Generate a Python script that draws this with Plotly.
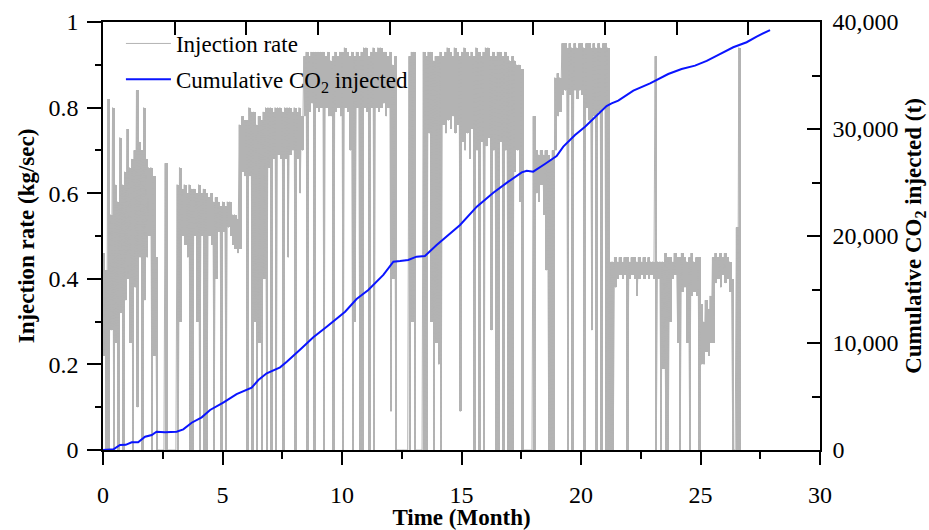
import plotly.graph_objects as go

# ---- cumulative CO2 injected (t) ----
cum_month = [0, 0.45, 0.71, 0.95, 1.2, 1.47, 1.76, 2.04, 2.24, 2.59, 3.08, 3.36, 3.71, 4.13, 4.48,
             5.03, 5.59, 5.94, 6.22, 6.5, 6.85, 7.41, 7.69, 8.31, 8.8, 9.36, 9.85, 10.13, 10.61,
             11.1, 11.73, 12.15, 12.43, 12.77, 13.12, 13.47, 13.96, 14.45, 14.94, 15.64, 16.33,
             16.96, 17.52, 17.73, 18.0, 18.49, 18.98, 19.26, 19.75, 20.17, 20.66, 21.07, 21.28,
             21.56, 22.19, 22.89, 23.65, 24.21, 24.77, 25.26, 25.75, 26.37, 26.93, 27.35, 27.91]
cum_co2 = [0, 80, 467, 480, 720, 730, 1240, 1400, 1710, 1650, 1710, 1930, 2550, 3050, 3740,
           4420, 5230, 5600, 5820, 6540, 7170, 7730, 8250, 9500, 10530, 11520, 12460, 12930, 14110,
           14950, 16360, 17600, 17660, 17760, 18070, 18130, 19160, 20090, 21030, 22740, 24050,
           25080, 25950, 26100, 26010, 26730, 27480, 28350, 29440, 30220, 31310, 32150, 32400,
           32650, 33580, 34270, 35140, 35610, 35920, 36360, 36920, 37640, 38110, 38640, 39250]

# ---- injection rate (kg/sec): logger max / min in each 0.1-month interval, one row per month ----
rate_start = 0.0
rate_step = 0.1
rate_max_rows = [
    [0.46, 0.42, 0.82, 0.55, 0.80, 0.62, 0.58, 0.73, 0.62, 0.65],
    [0.75, 0.66, 0.68, 0.70, 0.84, 0.72, 0.70, 0.80, 0.68, 0.66],
    [0.66, 0.64, 0.45, 0.0, 0.0, 0.0, 0.67, 0.0, 0.0, 0.0],
    [0.0, 0.62, 0.66, 0.61, 0.62, 0.60, 0.62, 0.61, 0.61, 0.60],
    [0.62, 0.60, 0.61, 0.60, 0.59, 0.60, 0.58, 0.59, 0.58, 0.57],
    [0.58, 0.57, 0.58, 0.58, 0.55, 0.55, 0.54, 0.76, 0.78, 0.77],
    [0.77, 0.80, 0.79, 0.79, 0.76, 0.78, 0.77, 0.79, 0.80, 0.80],
    [0.80, 0.79, 0.80, 0.80, 0.80, 0.79, 0.80, 0.80, 0.80, 0.79],
    [0.80, 0.79, 0.80, 0.78, 0.92, 0.93, 0.92, 0.93, 0.93, 0.93],
    [0.93, 0.93, 0.93, 0.92, 0.93, 0.91, 0.92, 0.93, 0.92, 0.93],
    [0.93, 0.94, 0.93, 0.92, 0.93, 0.92, 0.93, 0.92, 0.93, 0.94],
    [0.94, 0.92, 0.93, 0.94, 0.93, 0.94, 0.94, 0.93, 0.93, 0.92],
    [0.93, 0.90, 0.92, 0.0, 0.0, 0.0, 0.0, 0.0, 0.92, 0.93],
    [0.93, 0.0, 0.0, 0.0, 0.93, 0.92, 0.93, 0.93, 0.91, 0.92],
    [0.92, 0.93, 0.92, 0.93, 0.94, 0.93, 0.92, 0.94, 0.93, 0.92],
    [0.93, 0.94, 0.93, 0.92, 0.93, 0.92, 0.94, 0.93, 0.92, 0.93],
    [0.94, 0.94, 0.92, 0.93, 0.92, 0.93, 0.93, 0.92, 0.93, 0.92],
    [0.91, 0.92, 0.91, 0.90, 0.90, 0.89, 0.0, 0.0, 0.0, 0.0],
    [0.78, 0.70, 0.69, 0.70, 0.69, 0.70, 0.69, 0.68, 0.70, 0.87],
    [0.88, 0.87, 0.95, 0.95, 0.94, 0.95, 0.94, 0.95, 0.94, 0.95],
    [0.95, 0.94, 0.95, 0.95, 0.94, 0.95, 0.94, 0.95, 0.94, 0.95],
    [0.95, 0.94, 0.44, 0.44, 0.45, 0.44, 0.45, 0.44, 0.45, 0.45],
    [0.44, 0.45, 0.45, 0.44, 0.45, 0.44, 0.45, 0.44, 0.45, 0.44],
    [0.44, 0.92, 0.44, 0.44, 0.44, 0.46, 0.45, 0.45, 0.44, 0.46],
    [0.45, 0.45, 0.46, 0.45, 0.44, 0.45, 0.46, 0.44, 0.45, 0.45],
    [0.34, 0.30, 0.35, 0.33, 0.36, 0.45, 0.46, 0.45, 0.46, 0.45],
    [0.46, 0.45, 0.44, 0.40, 0.0, 0.52, 0.94],
]
rate_min_rows = [
    [0.22, 0.0, 0.0, 0.28, 0.0, 0.25, 0.0, 0.32, 0.0, 0.35],
    [0.40, 0.25, 0.0, 0.38, 0.10, 0.45, 0.0, 0.35, 0.45, 0.50],
    [0.0, 0.22, 0.0, 0.0, 0.0, 0.0, 0.0, 0.0, 0.0, 0.0],
    [0.0, 0.0, 0.30, 0.50, 0.48, 0.45, 0.0, 0.0, 0.50, 0.30],
    [0.0, 0.50, 0.0, 0.0, 0.50, 0.48, 0.0, 0.40, 0.51, 0.0],
    [0.51, 0.0, 0.52, 0.50, 0.48, 0.47, 0.46, 0.47, 0.65, 0.64],
    [0.0, 0.64, 0.0, 0.30, 0.0, 0.25, 0.0, 0.40, 0.0, 0.66],
    [0.0, 0.68, 0.0, 0.69, 0.68, 0.0, 0.68, 0.45, 0.69, 0.70],
    [0.0, 0.68, 0.60, 0.70, 0.78, 0.0, 0.79, 0.81, 0.0, 0.80],
    [0.79, 0.80, 0.0, 0.80, 0.78, 0.78, 0.0, 0.79, 0.80, 0.78],
    [0.0, 0.80, 0.79, 0.70, 0.0, 0.30, 0.80, 0.0, 0.0, 0.80],
    [0.79, 0.0, 0.80, 0.0, 0.80, 0.79, 0.80, 0.81, 0.78, 0.80],
    [0.09, 0.40, 0.0, 0.0, 0.0, 0.0, 0.0, 0.0, 0.0, 0.30],
    [0.0, 0.0, 0.0, 0.0, 0.0, 0.0, 0.74, 0.30, 0.0, 0.25],
    [0.20, 0.0, 0.76, 0.74, 0.77, 0.75, 0.78, 0.74, 0.76, 0.09],
    [0.72, 0.70, 0.74, 0.68, 0.75, 0.0, 0.70, 0.0, 0.72, 0.0],
    [0.71, 0.73, 0.28, 0.70, 0.0, 0.0, 0.72, 0.0, 0.70, 0.0],
    [0.0, 0.0, 0.65, 0.70, 0.58, 0.0, 0.0, 0.0, 0.0, 0.0],
    [0.0, 0.60, 0.58, 0.62, 0.55, 0.42, 0.0, 0.0, 0.0, 0.70],
    [0.78, 0.79, 0.83, 0.84, 0.0, 0.83, 0.0, 0.84, 0.82, 0.84],
    [0.83, 0.0, 0.80, 0.77, 0.28, 0.78, 0.0, 0.79, 0.0, 0.80],
    [0.0, 0.0, 0.0, 0.0, 0.38, 0.40, 0.41, 0.40, 0.41, 0.0],
    [0.40, 0.41, 0.40, 0.36, 0.40, 0.41, 0.40, 0.41, 0.40, 0.41],
    [0.40, 0.0, 0.40, 0.0, 0.19, 0.0, 0.0, 0.30, 0.40, 0.41],
    [0.25, 0.0, 0.37, 0.38, 0.25, 0.0, 0.36, 0.37, 0.36, 0.0],
    [0.20, 0.20, 0.23, 0.22, 0.25, 0.25, 0.39, 0.40, 0.38, 0.41],
    [0.39, 0.40, 0.37, 0.0, 0.0, 0.0, 0.0],
]

x_ticks = [0, 5, 10, 15, 20, 25, 30]
top_ticks = [3, 6, 9, 12, 15, 18, 21, 24, 27]
rate_ticks = [0, 0.2, 0.4, 0.6, 0.8, 1]
cum_ticks = [0, 10000, 20000, 30000, 40000]
cum_tick_text = ["0", "10,000", "20,000", "30,000", "40,000"]

rate_max = [v for row in rate_max_rows for v in row]
rate_min = [v for row in rate_min_rows for v in row]
interval_start = [rate_start + i * rate_step for i in range(len(rate_max))]
# interleave max and min of each interval so the logger trace is drawn as one line
rate_month, rate_vals = [], []
for t0, hi, lo in zip(interval_start, rate_max, rate_min):
    rate_month += [t0, t0 + rate_step / 2]
    rate_vals += [hi, lo]

GREY = "#b3b3b3"
FONT = "Liberation Serif"
fig = go.Figure()
# min-max range of each logging interval (solid band)
fig.add_trace(go.Bar(x=interval_start, y=[hi - lo for hi, lo in zip(rate_max, rate_min)], base=rate_min,
                     width=rate_step, offset=0, marker=dict(color=GREY, line=dict(width=0)),
                     showlegend=False, hoverinfo="skip", xaxis="x", yaxis="y"))
fig.add_trace(go.Scatter(x=rate_month, y=rate_vals, mode="lines", name="Injection rate",
                         legendgroup="a",
                         line=dict(color=GREY, width=1, simplify=False), xaxis="x", yaxis="y"))
fig.add_trace(go.Scatter(x=cum_month, y=cum_co2, mode="lines", name="Cumulative CO<sub>2</sub> injected",
                         legendgroup="b",
                         line=dict(color="#0a14ff", width=2), xaxis="x", yaxis="y2"))
fig.add_trace(go.Scatter(x=[0, 30], y=[None, None], mode="lines", showlegend=False,
                         hoverinfo="skip", xaxis="x2", yaxis="y"))

axis_common = dict(showgrid=False, zeroline=False, showline=True, linecolor="black", linewidth=1.5,
                   tickcolor="black", tickwidth=1.5, automargin=False,
                   tickfont=dict(family=FONT, size=24, color="black"))

fig.update_layout(
    width=929, height=530,
    margin=dict(l=103, r=109, t=22, b=80),
    paper_bgcolor="white", plot_bgcolor="white",
    font=dict(family=FONT, color="black"),
    xaxis=dict(range=[0, 30], tickvals=x_ticks, ticks="outside", ticklen=13,
               minor=dict(dtick=2.5, ticks="outside", ticklen=7, tickcolor="black", tickwidth=1.5),
               title=dict(text="<b>Time (Month)</b>", font=dict(family=FONT, size=23), standoff=4),
               ticklabelstandoff=9, **axis_common),
    xaxis2=dict(range=[0, 30], overlaying="x", side="top", tickvals=top_ticks,
                ticks="inside", ticklen=13, showticklabels=False, **axis_common),
    yaxis=dict(range=[0, 1], tickvals=rate_ticks, ticks="outside", ticklen=14,
               minor=dict(dtick=0.1, ticks="outside", ticklen=6, tickcolor="black", tickwidth=1.5),
               title=dict(text="<b>Injection rate (kg/sec)</b>", font=dict(family=FONT, size=23), standoff=7),
               ticklabelstandoff=4, **axis_common),
    yaxis2=dict(range=[0, 40000], overlaying="y", side="right", tickvals=cum_ticks, ticktext=cum_tick_text,
                ticks="inside", ticklen=13,
                minor=dict(dtick=5000, ticks="inside", ticklen=8, tickcolor="black", tickwidth=1.5),
                title=dict(text="<b>Cumulative CO<sub>2</sub> injected (t)</b>", font=dict(family=FONT, size=23), standoff=12),
                ticklabelstandoff=6, **axis_common),
    legend=dict(x=0.025, y=1.0, xanchor="left", yanchor="top", bgcolor="rgba(0,0,0,0)", itemwidth=45,
                tracegroupgap=3, font=dict(family=FONT, size=23, color="black")),
    showlegend=True,
    bargap=0,
)

fig.write_html("out.html")
